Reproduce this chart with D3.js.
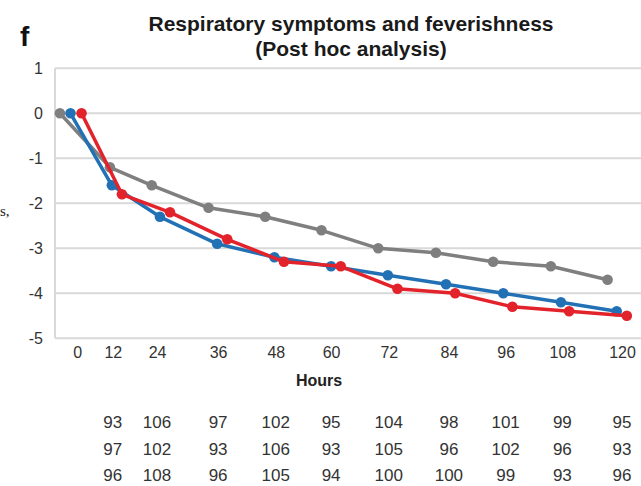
<!DOCTYPE html>
<html>
<head>
<meta charset="utf-8">
<script src="https://cdn.jsdelivr.net/npm/d3@7"></script>
<style>
  body { margin: 0; background: #fff; }
  svg { display: block; font-family: "Liberation Sans", Arial, sans-serif; }
</style>
</head>
<body>
<svg width="641" height="486"></svg>
<script>
// hour labels and where each label sits on the hour scale
var hourLabels = [0, 12, 24, 36, 48, 60, 72, 84, 96, 108, 120];
var tickPos = [6.7, 14.1, 23.3, 36, 48, 59.5, 71.5, 84, 95.8, 107.6, 120];

// x positions (hours) for each series
var grayHours = [3.1, 13.5, 22.2, 34.0, 45.8, 57.5, 69.3, 81.3, 93.2, 105.2, 117.0];
var blueHours = [5.3, 13.9, 23.9, 35.8, 47.7, 59.5, 71.3, 83.4, 95.3, 107.3, 118.9];
var redHours  = [7.6, 16.0, 26.0, 37.9, 49.7, 61.5, 73.3, 85.3, 97.2, 109.0, 121.0];

var grayVals = [0, -1.2, -1.6, -2.1, -2.3, -2.6, -3.0, -3.1, -3.3, -3.4, -3.7];
var blueVals = [0, -1.6, -2.3, -2.9, -3.2, -3.4, -3.6, -3.8, -4.0, -4.2, -4.4];
var redVals  = [0, -1.8, -2.2, -2.8, -3.3, -3.4, -3.9, -4.0, -4.3, -4.4, -4.5];

var yTicks = [1, 0, -1, -2, -3, -4, -5];

// patient counts under the axis (columns 12..120)
var nRow1 = [93, 106, 97, 102, 95, 104, 98, 101, 99, 95];
var nRow2 = [97, 102, 93, 106, 93, 105, 96, 102, 96, 93];
var nRow3 = [96, 108, 96, 105, 94, 100, 100, 99, 93, 96];

var svg = d3.select("svg");
var plotLeft = 55, plotRight = 641;

var xScale = d3.scaleLinear().domain([0, 120]).range([45, 622]);
var yScale = d3.scaleLinear().domain([-5, 1]).range([338.3, 68.3]);

// gridlines
svg.append("g")
    .selectAll("line")
    .data(yTicks)
    .enter().append("line")
    .attr("x1", plotLeft)
    .attr("x2", plotRight)
    .attr("y1", function(d) { return yScale(d); })
    .attr("y2", function(d) { return yScale(d); })
    .attr("stroke", "#d9d9d9")
    .attr("stroke-width", 2);

svg.append("line")
    .attr("x1", plotLeft).attr("x2", plotLeft)
    .attr("y1", yScale(1)).attr("y2", yScale(-5))
    .attr("stroke", "#d9d9d9")
    .attr("stroke-width", 2);

// y axis labels
var yAxis = svg.append("g")
    .attr("transform", "translate(" + plotLeft + ",0)")
    .call(d3.axisLeft(yScale)
        .tickValues(yTicks)
        .tickSize(0)
        .tickPadding(12)
        .tickFormat(function(d) { return String(d); }));
yAxis.select(".domain").remove();
yAxis.selectAll("text")
    .attr("font-size", 16)
    .attr("fill", "#333")
    .style("font-family", "Liberation Sans, Arial, sans-serif");

// x axis labels
var xAxis = svg.append("g")
    .attr("transform", "translate(0," + yScale(-5) + ")")
    .call(d3.axisBottom(xScale)
        .tickValues(tickPos)
        .tickSize(0)
        .tickPadding(8)
        .tickFormat(function(d, i) { return hourLabels[i]; }));
xAxis.select(".domain").remove();
xAxis.selectAll("text")
    .attr("font-size", 16)
    .attr("fill", "#333")
    .style("font-family", "Liberation Sans, Arial, sans-serif");

svg.append("text")
    .attr("x", 319)
    .attr("y", 386)
    .attr("text-anchor", "middle")
    .attr("font-size", 16)
    .attr("font-weight", "bold")
    .attr("fill", "#222")
    .text("Hours");

// counts table
var rows = [nRow1, nRow2, nRow3];
rows.forEach(function(row, r) {
    svg.append("g")
        .selectAll("text")
        .data(row)
        .enter().append("text")
        .attr("x", function(d, i) { return xScale(tickPos[i + 1]); })
        .attr("y", 428 + r * 26.5)
        .attr("text-anchor", "middle")
        .attr("font-size", 17)
        .attr("fill", "#333")
        .text(function(d) { return d; });
});

// series
var series = [
    {hours: grayHours, vals: grayVals, color: "#7f7f7f"},
    {hours: blueHours, vals: blueVals, color: "#2371b5"},
    {hours: redHours,  vals: redVals,  color: "#e3232b"}
];

var line = d3.line()
    .x(function(d) { return xScale(d.x); })
    .y(function(d) { return yScale(d.y); });

var lineG = svg.append("g")
    .selectAll("g")
    .data(series)
    .enter().append("g");

lineG.append("path")
    .attr("fill", "none")
    .attr("stroke", function(d) { return d.color; })
    .attr("stroke-width", 3.5)
    .attr("stroke-linejoin", "round")
    .attr("d", function(d) {
        return line(d.hours.map(function(h, i) { return {x: h, y: d.vals[i]}; }));
    });

lineG.each(function(s) {
    d3.select(this).selectAll("circle")
        .data(s.hours.map(function(h, i) { return {x: h, y: s.vals[i]}; }))
        .enter().append("circle")
        .attr("r", 5.3)
        .attr("cx", function(d) { return xScale(d.x); })
        .attr("cy", function(d) { return yScale(d.y); })
        .attr("fill", s.color);
});

// title and panel letter
svg.append("text")
    .attr("x", 351).attr("y", 31)
    .attr("text-anchor", "middle")
    .attr("font-size", 21)
    .attr("font-weight", "bold")
    .attr("fill", "#1a1a1a")
    .text("Respiratory symptoms and feverishness");
svg.append("text")
    .attr("x", 351).attr("y", 56)
    .attr("text-anchor", "middle")
    .attr("font-size", 21)
    .attr("font-weight", "bold")
    .attr("fill", "#1a1a1a")
    .text("(Post hoc analysis)");

svg.append("text")
    .attr("x", 20).attr("y", 46)
    .attr("font-size", 28)
    .attr("font-weight", "bold")
    .attr("fill", "#111")
    .text("f");

// fragment of page text at the left edge
svg.append("text")
    .attr("x", 0).attr("y", 216)
    .attr("font-size", 15)
    .attr("fill", "#222")
    .style("font-family", "Liberation Serif, serif")
    .text("s,");
</script>
</body>
</html>
